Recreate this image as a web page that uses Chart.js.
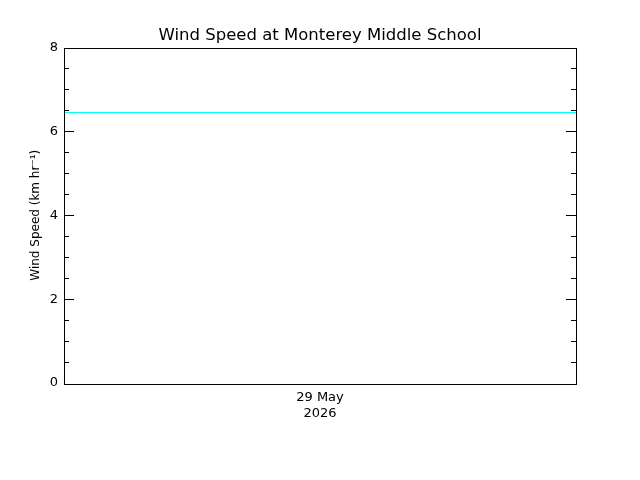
<!DOCTYPE html>
<html>
<head>
<meta charset="utf-8">
<script src="https://cdn.jsdelivr.net/npm/chart.js@4/dist/chart.umd.min.js"></script>
<style>
  html, body { margin: 0; padding: 0; background: #ffffff; }
  #wrap { width: 640px; height: 480px; }
</style>
</head>
<body>
<div id="wrap"><canvas id="windChart" width="640" height="480"></canvas></div>
<script>
// Data
const hours = [0, 24];            // hours of the day, 29 May 2026
const windSpeed = [6.45, 6.45];   // km/hr
const dateLabel = ['29 May', '2026'];
const yTicks = [0, 2, 4, 6, 8];

const fontFamily = '"DejaVu Sans", sans-serif';

// Draw the frame and the inward tick marks (major + minor) on both sides
const frameTicks = {
    id: 'frameTicks',
    afterDraw(chart) {
        const ctx = chart.ctx;
        const area = chart.chartArea;
        const y = chart.scales.y;
        ctx.save();
        ctx.strokeStyle = '#000000';
        ctx.lineWidth = 1;
        ctx.strokeRect(Math.round(area.left) + 0.5, Math.round(area.top) + 0.5,
            Math.round(area.right - area.left), Math.round(area.bottom - area.top));
        for (let v = y.min + 0.5; v < y.max; v += 0.5) {
            const py = Math.round(y.getPixelForValue(v)) + 0.5;
            const len = yTicks.includes(v) ? 10 : 5;
            ctx.beginPath();
            ctx.moveTo(area.left, py);
            ctx.lineTo(area.left + len, py);
            ctx.moveTo(area.right, py);
            ctx.lineTo(area.right - len, py);
            ctx.stroke();
        }
        ctx.restore();
    }
};

const ctx = document.getElementById('windChart').getContext('2d');
const chart = new Chart(ctx, {
    type: 'line',
    data: {
        datasets: [{
            label: 'Wind Speed',
            data: hours.map((h, i) => ({ x: h, y: windSpeed[i] })),
            borderColor: '#00ffff',
            borderWidth: 1,
            pointRadius: 0,
            fill: false,
            tension: 0
        }]
    },
    options: {
        responsive: false,
        animation: false,
        devicePixelRatio: 1,
        layout: { padding: 0 },
        scales: {
            x: {
                type: 'linear',
                min: 0,
                max: 24,
                afterBuildTicks(scale) {
                    scale.ticks = [{ value: 12 }];
                },
                afterFit(scale) {
                    scale.height = 97;
                },
                ticks: {
                    callback: () => dateLabel,
                    color: '#000000',
                    font: { family: fontFamily, size: 13 },
                    padding: 7,
                    maxRotation: 0
                },
                grid: { display: false, drawTicks: false },
                border: { display: false }
            },
            y: {
                min: 0,
                max: 8,
                afterBuildTicks(scale) {
                    scale.ticks = yTicks.map(v => ({ value: v }));
                },
                afterFit(scale) {
                    scale.width = 64;
                },
                ticks: {
                    color: '#000000',
                    font: { family: fontFamily, size: 13 },
                    padding: 6
                },
                grid: { display: false, drawTicks: false },
                border: { display: false },
                title: {
                    display: true,
                    text: 'Wind Speed (km hr\u207B\u00B9)',
                    color: '#000000',
                    font: { family: fontFamily, size: 12 },
                    padding: { top: 29, bottom: 0 }
                }
            },
            // empty right axis, only to keep the plot box symmetric
            yRight: {
                position: 'right',
                min: 0,
                max: 8,
                afterFit(scale) {
                    scale.width = 64;
                },
                ticks: { display: false },
                grid: { display: false, drawTicks: false },
                border: { display: false }
            }
        },
        plugins: {
            legend: { display: false },
            tooltip: { enabled: false },
            title: {
                display: true,
                text: 'Wind Speed at Monterey Middle School',
                color: '#000000',
                font: { family: fontFamily, size: 16.5, weight: 'normal' },
                padding: { top: 26, bottom: 1.7 }
            }
        }
    },
    plugins: [frameTicks]
});
</script>
</body>
</html>
